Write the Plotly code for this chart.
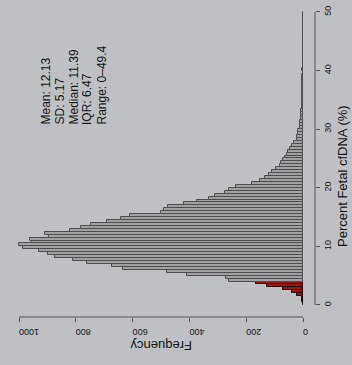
import plotly.graph_objects as go

# Histogram of percent fetal cfDNA, 0.5% bins, drawn sideways
bin_width = 0.5
bin_starts = [i * bin_width for i in range(100)]
counts = [
    0, 2, 5, 22, 40, 70, 128, 165,            # 0.0 - 3.5
    262, 270, 410, 480, 634, 674, 760, 810,   # 4.0 - 7.5
    873, 898, 930, 985, 1000, 955, 960, 895,  # 8.0 - 11.5
    910, 820, 780, 745, 690, 640, 610, 500,   # 12.0 - 15.5
    490, 475, 420, 375, 330, 310, 275, 260,   # 16.0 - 19.5
    235, 180, 150, 135, 120, 110, 95, 80,     # 20.0 - 23.5
    78, 70, 62, 57, 52, 46, 40, 30,           # 24.0 - 27.5
    22, 20, 18, 16, 12, 10, 9, 8,             # 28.0 - 31.5
    7, 6, 6, 5, 5, 4, 4, 3,                   # 32.0 - 35.5
    3, 3, 2, 3, 2, 2, 2, 1,                   # 36.0 - 39.5
    2, 1, 1, 1, 1, 0, 1, 1,                   # 40.0 - 43.5
    1, 0, 1, 1, 0, 1, 1, 0,                   # 44.0 - 47.5
    1, 1, 1, 0,                               # 48.0 - 49.5
]
low_cutoff = 4.0

freq_ticks = [0, 200, 400, 600, 800, 1000]
pct_ticks = [0, 10, 20, 30, 40, 50]
stats_lines = ["Mean: 12.13", "SD: 5.17", "Median: 11.39", "IQR: 6.47", "Range: 0\u201349.4"]

W, H = 352, 365
ML, MR, MT, MB = 5, 37, 5, 48
pw, ph = W - ML - MR, H - MT - MB


def px_x(p):
    return (p - ML) / pw


def px_y(p):
    return (H - MB - p) / ph


centers = [s + bin_width / 2 for s in bin_starts]
fills = ["#9e1212" if s < low_cutoff else "#a0a0a2" for s in bin_starts]
edges = ["#1a0a0a" if s < low_cutoff else "#4e4e50" for s in bin_starts]

fig = go.Figure(go.Bar(
    y=centers, x=counts, orientation="h", width=bin_width,
    marker=dict(color=fills, line=dict(color=edges, width=1)),
    hoverinfo="skip",
))

font = "Liberation Sans, Arial, sans-serif"
ink = "#161616"

# summary statistics, one rotated line each, starts aligned at the bottom
stats_notes = [
    dict(text=line, textangle=-90, xref="paper", yref="paper",
         x=px_x(45 + 14 * i), y=px_y(127), xanchor="center", yanchor="bottom",
         showarrow=False, font=dict(family=font, size=12, color=ink))
    for i, line in enumerate(stats_lines)
]

fig.update_layout(
    width=W, height=H,
    margin=dict(l=ML, r=MR, t=MT, b=MB),
    paper_bgcolor="#bec0c3", plot_bgcolor="rgba(0,0,0,0)",
    bargap=0, showlegend=False,
    xaxis=dict(range=[1049.3, -42.25], tickvals=freq_ticks,
               ticktext=[str(v) for v in freq_ticks], tickangle=180,
               ticks="outside", ticklen=4, tickcolor="#555", tickwidth=1,
               ticklabelstandoff=5,
               showgrid=False, zeroline=False, showline=False,
               tickfont=dict(family=font, size=9, color=ink)),
    yaxis=dict(range=[-2.05, 51.19], side="right", tickvals=pct_ticks,
               ticktext=[str(v) for v in pct_ticks], tickangle=-90,
               ticks="outside", ticklen=4, tickcolor="#555", tickwidth=1,
               showgrid=False, zeroline=False, showline=False,
               tickfont=dict(family=font, size=9, color=ink)),
    shapes=[
        dict(type="line", xref="x", yref="paper", x0=0, x1=1000, y0=0, y1=0,
             line=dict(color="#555", width=1)),
        dict(type="line", xref="paper", yref="y", x0=1, x1=1, y0=0, y1=50,
             line=dict(color="#555", width=1)),
    ],
    annotations=[
        dict(text="Frequency", textangle=180, xref="paper", yref="paper",
             x=px_x(161), y=px_y(345), xanchor="center", yanchor="middle",
             showarrow=False, font=dict(family=font, size=13, color=ink)),
        dict(text="Percent Fetal cfDNA (%)", textangle=-90, xref="paper", yref="paper",
             x=px_x(342), y=px_y(176), xanchor="center", yanchor="middle",
             showarrow=False, font=dict(family=font, size=13, color=ink)),
    ] + stats_notes,
)

fig.write_html("out.html")
